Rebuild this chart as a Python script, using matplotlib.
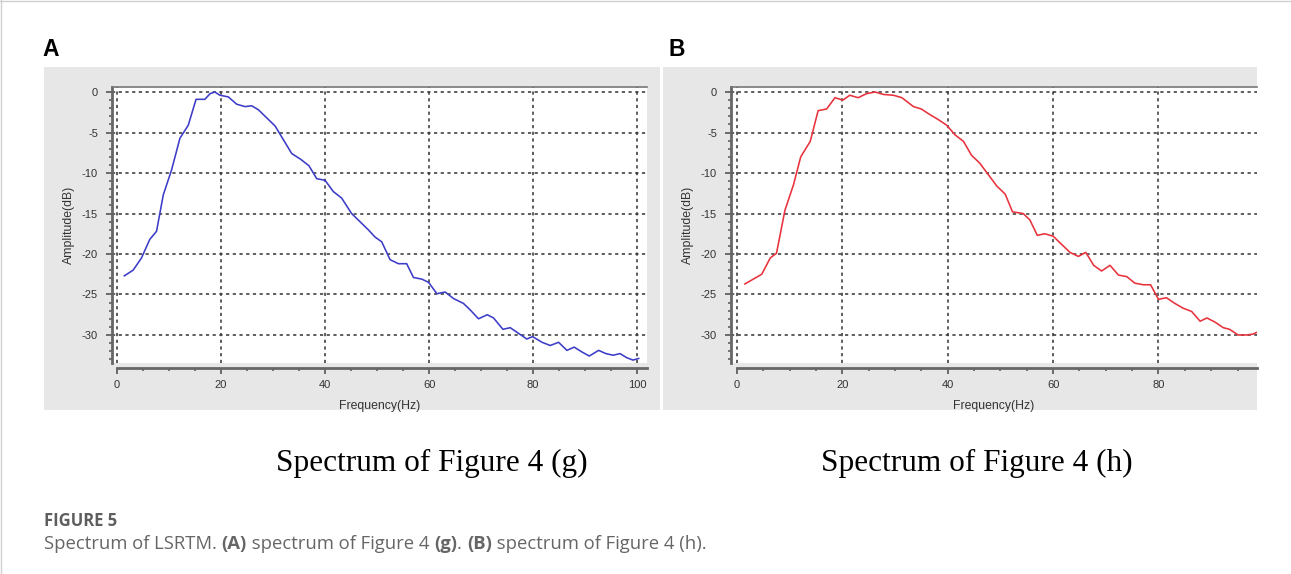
import numpy as np
import matplotlib.pyplot as plt
from matplotlib.patches import Rectangle
from matplotlib.lines import Line2D
from matplotlib.ticker import MultipleLocator

# spectrum of Figure 4 (g)
freq_g = [1.4, 3.1, 4.7, 6.3, 7.6, 8.9, 10.5, 12.1, 13.7, 15.2, 16.9, 17.9, 18.8,
          19.8, 21.4, 23.0, 24.6, 25.9, 27.2, 28.8, 30.4, 32.0, 33.6, 35.3, 36.9,
          38.4, 40.0, 41.6, 43.2, 45.1, 46.7, 48.3, 49.6, 50.9, 52.5, 54.1, 55.7,
          57.0, 58.6, 59.9, 61.5, 63.1, 64.7, 66.6, 67.9, 69.5, 71.2, 72.4, 74.2,
          75.6, 77.2, 78.8, 79.9, 81.7, 83.3, 84.9, 86.5, 87.9, 89.4, 90.8, 92.6,
          94.0, 95.4, 96.7, 98.0, 99.2, 100.3]
amp_g = [-22.7, -22.0, -20.5, -18.2, -17.2, -12.7, -9.6, -5.7, -4.1, -0.9, -0.9,
         -0.2, 0.0, -0.4, -0.6, -1.5, -1.8, -1.7, -2.2, -3.2, -4.2, -5.9, -7.6,
         -8.3, -9.1, -10.7, -10.9, -12.3, -13.1, -15.0, -16.0, -17.0, -17.9, -18.5,
         -20.7, -21.2, -21.2, -22.9, -23.1, -23.5, -24.9, -24.7, -25.5, -26.1,
         -26.9, -28.0, -27.5, -27.9, -29.3, -29.1, -29.8, -30.5, -30.2, -30.9,
         -31.3, -30.9, -31.9, -31.5, -32.1, -32.6, -31.9, -32.3, -32.5, -32.3,
         -32.8, -33.1, -32.9]

# spectrum of Figure 4 (h)
freq_h = [1.5, 3.1, 4.7, 6.3, 7.5, 9.1, 10.7, 12.1, 13.9, 15.4, 17.0, 18.6, 20.1,
          21.4, 23.0, 24.6, 26.2, 27.8, 29.7, 31.3, 33.5, 35.0, 36.4, 38.2, 39.8,
          41.4, 43.0, 44.5, 46.1, 47.7, 49.3, 50.9, 52.3, 54.3, 55.6, 57.0, 58.4,
          60.0, 61.6, 63.2, 64.8, 66.2, 67.7, 69.2, 70.8, 72.4, 74.0, 75.5, 77.1,
          78.5, 80.0, 81.5, 83.1, 84.7, 86.3, 87.9, 89.2, 90.7, 92.3, 93.5, 95.1,
          96.7, 97.9, 98.6]
amp_h = [-23.7, -23.1, -22.5, -20.5, -19.9, -14.6, -11.5, -8.0, -6.1, -2.3, -2.1,
         -0.7, -1.0, -0.4, -0.7, -0.2, 0.0, -0.3, -0.4, -0.7, -1.8, -2.1, -2.7,
         -3.4, -4.1, -5.3, -6.1, -7.8, -8.8, -10.2, -11.6, -12.6, -14.8, -15.0,
         -15.8, -17.7, -17.5, -17.8, -18.8, -19.8, -20.3, -19.8, -21.4, -22.1,
         -21.4, -22.6, -22.8, -23.6, -23.8, -23.8, -25.6, -25.4, -26.1, -26.7,
         -27.1, -28.3, -27.9, -28.4, -29.1, -29.3, -30.0, -30.0, -29.9, -29.7]

W, H = 1291, 574
fig = plt.figure(figsize=(W / 100, H / 100), dpi=100)
plt.rcParams['font.family'] = ['Liberation Sans', 'DejaVu Sans']


def fx(px):
    return px / W


def fy(py):
    return 1 - py / H


# page border lines
fig.add_artist(Line2D([fx(1), fx(1)], [0, 1], color='#d0d0d0', lw=1))
fig.add_artist(Line2D([0, 1], [fy(1), fy(1)], color='#d0d0d0', lw=1))


def panel(bg, box, xmin, xmax, freq, amp, color, letter, letter_x):
    # grey screenshot background
    fig.patches.append(Rectangle((fx(bg[0]), fy(bg[3])), fx(bg[2] - bg[0]),
                                 (bg[3] - bg[1]) / H, transform=fig.transFigure,
                                 facecolor='#e7e7e7', edgecolor='none', zorder=-10))
    l, r, t, b = box
    ax = fig.add_axes([fx(l), fy(b), fx(r - l), (b - t) / H])
    ax.set_facecolor('white')
    ax.plot(freq, amp, color=color, lw=1.15, zorder=3)
    ax.set_ylim(-33.46, 0.62)

    ax.xaxis.set_major_locator(MultipleLocator(20))
    ax.xaxis.set_minor_locator(MultipleLocator(5))
    ax.yaxis.set_major_locator(MultipleLocator(5))
    ax.yaxis.set_minor_locator(MultipleLocator(1))
    ax.grid(True, which='major', color='#3a3a3a', linestyle=(0, (2, 2.2)), lw=1.15)

    ax.spines['right'].set_visible(False)
    ax.spines['top'].set_color('#777777')
    ax.spines['top'].set_linewidth(1.2)
    ax.spines['left'].set_color('#666666')
    ax.spines['left'].set_linewidth(2)
    ax.spines['bottom'].set_color('#666666')
    ax.spines['bottom'].set_linewidth(2)
    ax.spines['bottom'].set_position(('outward', 3.6))
    ax.spines['bottom'].set_bounds(0, xmax)

    ax.tick_params(which='major', length=4.5, width=1.2, color='#555555',
                   labelsize=8, labelcolor='#333333')
    ax.tick_params(which='minor', length=2.5, width=1.1, color='#555555')
    ax.tick_params(axis='y', which='major', pad=5.5)
    ax.tick_params(axis='x', which='major', pad=4)
    ax.set_xticks([0, 20, 40, 60, 80, 100])
    ax.set_yticks([0, -5, -10, -15, -20, -25, -30])
    ax.set_yticklabels(['0', '-5', '-10', '-15', '-20', '-25', '-30'])
    ax.set_xlim(xmin, xmax)

    ax.set_xlabel('Frequency(Hz)', fontsize=8.8, color='#333333')
    ax.set_ylabel('Amplitude(dB)', fontsize=8.8, color='#333333', labelpad=5)
    ax.xaxis.set_label_coords(0.5, -0.135)

    fig.text(fx(letter_x), fy(50), letter, fontsize=16.5, fontweight='bold',
             va='center', ha='left', color='black')
    return ax


axA = panel((44, 67, 660, 410), (112, 647, 87, 363), -5 / 5.2, 101.9,
            freq_g, amp_g, '#3c3cc8', 'A', 42)
axB = panel((663, 67, 1257, 410), (731, 1257, 87, 363), -6 / 5.27, 98.7,
            freq_h, amp_h, '#e8323c', 'B', 668)

# titles below panels
serif = ['Liberation Serif', 'DejaVu Serif']
fig.text(fx(432), fy(463), 'Spectrum of Figure 4 (g)', fontsize=22.5,
         family=serif, ha='center', va='center', color='black')
fig.text(fx(977), fy(463), 'Spectrum of Figure 4 (h)', fontsize=22.5,
         family=serif, ha='center', va='center', color='black')

# caption
fig.text(fx(44), fy(521), 'FIGURE 5', fontsize=12, fontweight='bold',
         family=['Open Sans', 'DejaVu Sans'], color='#5e5e5e', va='center')

pieces = [('Spectrum of LSRTM. ', 'normal'), ('(A)', 'bold'),
          (' spectrum of Figure 4 ', 'normal'), ('(g)', 'bold'), ('. ', 'normal'),
          ('(B)', 'bold'), (' spectrum of Figure 4 (h).', 'normal')]
renderer = fig.canvas.get_renderer()
x0 = 44
for txt, wt in pieces:
    t = fig.text(fx(x0), fy(544), txt, fontsize=13.3, fontweight=wt,
                 family=['Open Sans', 'DejaVu Sans'], color='#666666', va='center')
    bb = t.get_window_extent(renderer=renderer)
    x0 += bb.width

fig.savefig('out.png', dpi=100, facecolor='white')
